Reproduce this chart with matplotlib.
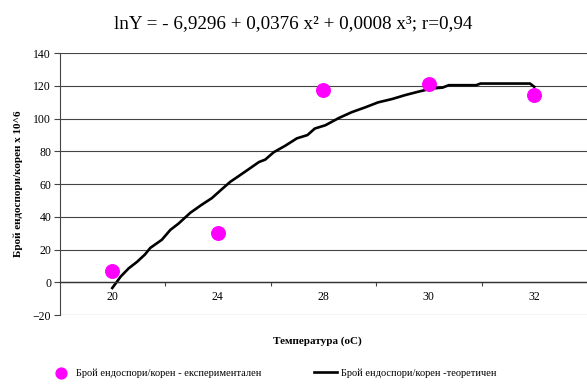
import matplotlib
matplotlib.use("Agg")
import matplotlib.pyplot as plt

plt.rcParams['font.family'] = ['Liberation Serif', 'DejaVu Serif']

# --- DATA ---
categories = ["20", "24", "28", "30", "32"]
experimental = [7.1, 30.0, 117.6, 121.3, 114.6]

# theoretical curve (x in category positions 0..4)
theory_x = [0.00, 0.08, 0.155, 0.235, 0.31, 0.36, 0.47, 0.55, 0.63, 0.74,
            0.85, 0.945, 1.04, 1.12, 1.20, 1.29, 1.39, 1.45, 1.53, 1.64,
            1.75, 1.85, 1.92, 2.02, 2.15, 2.27, 2.40, 2.52, 2.65, 2.78,
            2.90, 3.03, 3.13, 3.19, 3.45, 3.49, 3.96, 4.00]
theory_y = [-3.5, 3.5, 8.5, 12.5, 17.0, 21.0, 26.0, 32.0, 36.0, 42.5,
            47.5, 51.5, 57.0, 61.5, 65.0, 69.0, 73.5, 75.0, 79.5, 83.5,
            88.0, 90.0, 94.0, 96.0, 100.5, 104.0, 107.0, 110.0, 112.0, 114.5,
            116.5, 118.5, 119.0, 120.5, 120.5, 121.5, 121.5, 119.5]

title = "lnY = - 6,9296 + 0,0376 x² + 0,0008 x³; r=0,94"
y_label = "Брой ендоспори/корен x 10^6"
x_label = "Температура (оС)"
label_exp = "Брой ендоспори/корен - експериментален"
label_theory = "Брой ендоспори/корен -теоретичен"

# --- PLOTTING ---
fig = plt.figure(figsize=(5.87, 3.85), dpi=100)
ax = fig.add_axes([0.1014, 0.1818, 0.8986, 0.6798])

xs = list(range(len(categories)))
ax.scatter(xs, experimental, s=95, color='#FF00FF', zorder=3, label=label_exp,
           clip_on=False)
ax.plot(theory_x, theory_y, color='black', lw=1.9, zorder=2, label=label_theory)

ax.set_xlim(-0.5, len(categories) - 0.5)
ax.set_ylim(-20, 140)
ax.set_yticks(range(-20, 141, 20))
ax.yaxis.grid(True, color='#444444', lw=0.8)
ax.set_axisbelow(True)
ax.tick_params(axis='y', direction='out', length=4, width=0.8, color='#444444',
               labelsize=8.5, pad=2)

# x axis crossing at zero, ticks between categories
ax.spines['bottom'].set_position(('data', 0))
ax.spines['bottom'].set_color('#333333')
ax.spines['bottom'].set_linewidth(1.0)
ax.set_xticks([i + 0.5 for i in xs[:-1]])
ax.set_xticklabels([])
ax.set_xticks(xs, minor=True)
ax.set_xticklabels(categories, minor=True)
ax.tick_params(axis='x', which='major', direction='out', length=3, width=0.8,
               color='#444444')
ax.tick_params(axis='x', which='minor', length=0, labelsize=8.5, pad=6)
ax.spines['left'].set_color('#444444')
ax.spines['left'].set_linewidth(0.8)
ax.spines['top'].set_visible(False)
ax.spines['right'].set_visible(False)

ax.set_ylabel(y_label, fontsize=8, fontweight='bold', labelpad=7)
fig.text(0.54, 0.115, x_label, ha='center', va='center', fontsize=8,
         fontweight='bold')
fig.text(0.5, 0.94, title, ha='center', va='center', fontsize=13.8)

fig.legend(loc='lower center', bbox_to_anchor=(0.465, -0.005), ncol=2,
           frameon=False, fontsize=7.5, columnspacing=5.0, handlelength=2.2,
           handletextpad=0.4, markerscale=0.8)

plt.savefig("out.png", dpi=100)
plt.close()
